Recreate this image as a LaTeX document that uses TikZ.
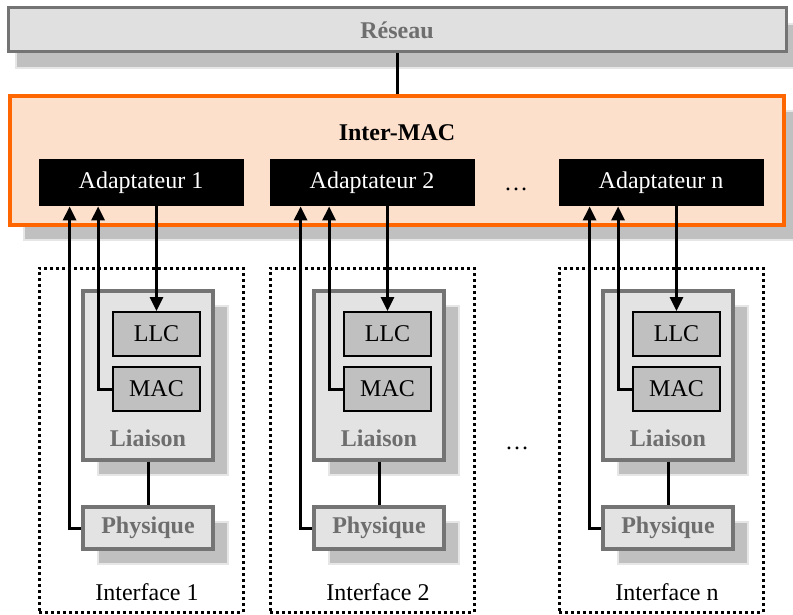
\documentclass[tikz,border=0pt]{standalone}
\usepackage{fontspec}
\setmainfont{Liberation Serif}
\usetikzlibrary{arrows.meta,shadows}
\definecolor{fondreseau}{HTML}{E0E0E0}
\definecolor{fondgris}{HTML}{E3E3E3}
\definecolor{bordgris}{HTML}{747474}
\definecolor{textegris}{HTML}{6E6E6E}
\definecolor{ombregris}{HTML}{C0C0C0}
\definecolor{ombrebord}{HTML}{E6E6E6}
\definecolor{orangemac}{HTML}{FF6600}
\definecolor{peche}{HTML}{FDE0CC}

\begin{document}
\begin{tikzpicture}[x=0.5pt,y=-0.5pt,font=\fontsize{12}{14}\selectfont]
  \tikzset{
    ombre/.style={copy shadow={shadow xshift=#1,shadow yshift=-7.5pt,
        fill=ombregris,draw=ombrebord,line width=0.6pt}},
    ombre/.default=7.5pt,
    couche/.style={draw=bordgris,line width=1.6pt,fill=fondgris,text=textegris,
      font=\fontsize{12}{14}\selectfont\bfseries,inner sep=0pt,minimum width=65pt,ombre},
    souscouche/.style={draw=black,line width=1pt,fill=ombregris,inner sep=0pt,
      minimum width=43.5pt,minimum height=22pt},
    adapt/.style={fill=black,text=white,inner sep=0pt,minimum width=102.5pt,minimum height=23.5pt},
    iface/.style={draw,line width=1.5pt,dash pattern=on 1.5pt off 1.5pt,inner sep=0pt,
      minimum width=102pt,minimum height=172pt},
    titregris/.style={text=textegris,font=\fontsize{12}{14}\selectfont\bfseries},
    lien/.style={line width=1.5pt},
    fleche/.style={lien,-{Triangle[length=7pt,width=6.5pt]}}
  }
  \useasboundingbox (0,0) rectangle (793,615);

  \node[draw=bordgris,line width=1.5pt,fill=fondreseau,titregris,inner sep=0pt,
    minimum width=389pt,minimum height=22pt,
    copy shadow={shadow xshift=4pt,shadow yshift=-8pt,fill=ombregris,draw=ombrebord,line width=0.6pt}]
    (reseau) at (397,30) {Réseau};
  \node[draw=orangemac,line width=1.8pt,fill=peche,inner sep=0pt,
    minimum width=387pt,minimum height=64.5pt,ombre=7pt] (intermac) at (397,160.5) {};
  \node[font=\fontsize{12}{14}\selectfont\bfseries] (titremac) at (397,133) {Inter-MAC};
  \draw[lien] (reseau) -- (intermac);

  \node (etc1) at (516,189) {\dots};
  \node (etc2) at (517,448) {\dots};

  \foreach \cx/\n in {141/1,372/2,661/n}{
    \node[adapt] (ad\n) at (\cx,182.5) {Adaptateur \n};
    \node[iface] (itf\n) at (\cx,440) {};
    \node (nom\n) at (\cx+6,592) {Interface \n};
    \node[couche,minimum height=84.5pt] (lia\n) at (\cx+7,375.5) {};
    \node[titregris] (titrelia\n) at (\cx+7,438) {Liaison};
    \node[souscouche] (llc\n) at (\cx+15.5,334) {LLC};
    \node[souscouche] (mac\n) at (\cx+15.5,389) {MAC};
    \node[couche,minimum height=21pt] (phy\n) at (\cx+7,528) {Physique};
    \draw[lien] (lia\n) -- (phy\n);
    \draw[fleche] (ad\n.south -| llc\n.north) -- (llc\n.north);
    \draw[fleche] (mac\n.west) -| ([xshift=30pt]ad\n.south west);
    \draw[fleche] (phy\n.west) -| ([xshift=15.75pt]ad\n.south west);
  }
\end{tikzpicture}
\end{document}
